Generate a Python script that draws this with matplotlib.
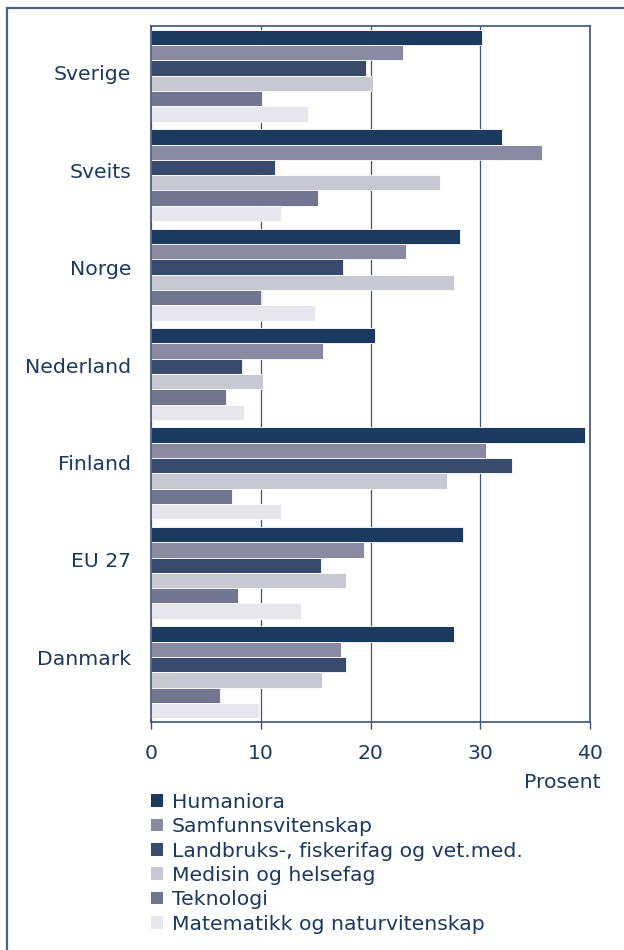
import matplotlib
matplotlib.use("Agg")
import matplotlib.pyplot as plt
from matplotlib.patches import Rectangle, Patch
import numpy as np

countries = ["Sverige", "Sveits", "Norge", "Nederland", "Finland", "EU 27", "Danmark"]
series_names = ["Humaniora", "Samfunnsvitenskap", "Landbruks-, fiskerifag og vet.med.",
                "Medisin og helsefag", "Teknologi", "Matematikk og naturvitenskap"]
humaniora = [30.2, 32.0, 28.2, 20.4, 39.5, 28.4, 27.6]
samfunn = [23.0, 35.6, 23.2, 15.7, 30.5, 19.4, 17.3]
landbruk = [19.6, 11.3, 17.5, 8.3, 32.9, 15.5, 17.8]
medisin = [20.2, 26.3, 27.6, 10.2, 27.0, 17.8, 15.6]
teknologi = [10.1, 15.2, 10.0, 6.8, 7.4, 7.9, 6.3]
matematikk = [14.3, 11.8, 14.9, 8.5, 11.8, 13.7, 9.8]
series = [humaniora, samfunn, landbruk, medisin, teknologi, matematikk]
xticks = [0, 10, 20, 30, 40]

colors = ["#1c3a5f", "#8a8aa3", "#384b6d", "#c8c8d2", "#71758f", "#e6e6ec"]
text_color = "#1c3a5f"
spine_color = "#3d5578"
fs = 14.7

fig = plt.figure(figsize=(6.24, 9.5), dpi=100)
W, H = 624, 950

# outer frame
fig.patches.append(Rectangle((7 / W, -0.1), 1.2, (H - 8.5) / H + 0.1, transform=fig.transFigure,
                             fill=False, edgecolor="#4a6282", linewidth=1.6))

ax = fig.add_axes([151 / W, 1 - 722 / H, (590 - 151) / W, (722 - 26) / H])

n = len(series)
h = 0.154
y = np.arange(len(countries))
for i, (vals, c, name) in enumerate(zip(series, colors, series_names)):
    offs = (i - (n - 1) / 2) * h
    ax.barh(y + offs, vals, height=h, color=c, edgecolor="white", linewidth=0.6,
            label=name, zorder=2)

ax.set_ylim(6.5, -0.5)
ax.set_xlim(0, 40)
# category labels sit slightly higher than the group centres in the original
ax.set_yticks(y * 0.98 - 0.03)
ax.set_yticklabels(countries)
ax.set_xticks(xticks)
ax.set_xticklabels([str(t) for t in xticks])
ax.tick_params(axis="y", length=0, pad=14.4, labelsize=fs, labelcolor=text_color)
ax.tick_params(axis="x", length=5, width=1, color=spine_color, direction="out",
               pad=10.5, labelsize=fs, labelcolor=text_color)
ax.grid(axis="x", color=spine_color, linewidth=0.9, zorder=1)
for s in ax.spines.values():
    s.set_color(spine_color)
    s.set_linewidth(1.2)

fig.text(600.5 / W, 1 - 783 / H, "Prosent", ha="right", va="center", fontsize=fs, color=text_color)

handles = [Patch(facecolor=c, edgecolor="none") for c in colors]
leg = fig.legend(handles, series_names, loc="upper left", bbox_to_anchor=(151 / W, 1 - 793 / H),
                 frameon=False, fontsize=fs, handlelength=0.58, handleheight=0.58,
                 handletextpad=0.45, labelspacing=0.26, borderaxespad=0, borderpad=0)
for t in leg.get_texts():
    t.set_color(text_color)

fig.savefig("out.png", dpi=100)
